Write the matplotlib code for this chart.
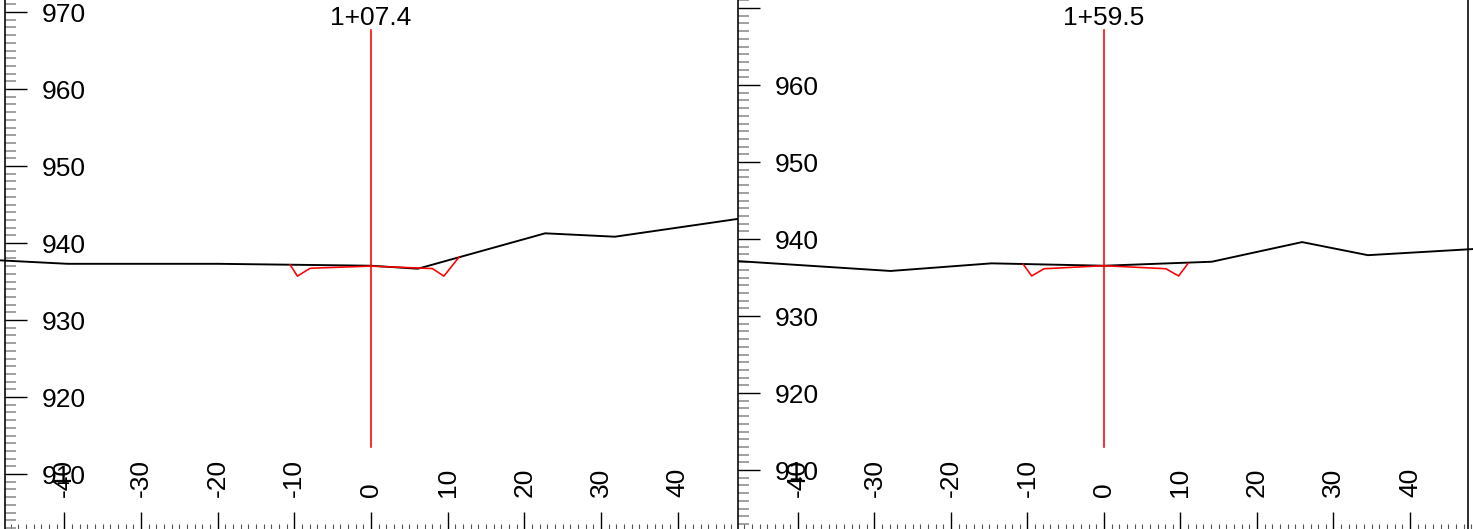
import matplotlib
matplotlib.use('Agg')
import matplotlib.pyplot as plt
from matplotlib.ticker import MultipleLocator

plt.rcParams['font.family'] = ['Liberation Sans', 'DejaVu Sans']

W, H, DPI = 1473, 529, 100
PX = 72.0 / DPI  # points per pixel

# ---------------- data ----------------
stations = ['1+07.4', '1+59.5']

ground_x_1 = [-48.4, -39.6, -20.0, 0.0, 6.1, 22.7, 31.8, 47.75]
ground_y_1 = [937.75, 937.3, 937.3, 937.05, 936.66, 941.26, 940.82, 943.12]
templ_x_1 = [-10.56, -9.6, -7.95, 0.0, 8.0, 9.5, 11.5]
templ_y_1 = [937.18, 935.7, 936.72, 937.0, 936.68, 935.7, 938.2]
cl_y_1 = [913.5, 967.66]

ground_x_2 = [-48.0, -27.9, -14.7, 0.0, 14.1, 25.9, 34.5, 48.3]
ground_y_2 = [937.14, 935.85, 936.84, 936.53, 937.05, 939.6, 937.9, 938.7]
templ_x_2 = [-10.55, -9.45, -7.84, 0.0, 8.1, 9.76, 11.0]
templ_y_2 = [936.72, 935.2, 936.14, 936.53, 936.14, 935.2, 936.84]
cl_y_2 = [913.0, 967.1]

x_ticks = [-40, -30, -20, -10, 0, 10, 20, 30, 40]
x_tick_labels = ['-40', '-30', '-20', '-10', '0', '10', '20', '30', '40']
y_ticks = [910, 920, 930, 940, 950, 960, 970]
y_tick_labels_1 = ['910', '920', '930', '940', '950', '960', '970']
y_tick_labels_2 = ['910', '920', '930', '940', '950', '960', '']

panels = [
    dict(station=stations[0], gx=ground_x_1, gy=ground_y_1, tx=templ_x_1, ty=templ_y_1,
         cl=cl_y_1, ylabels=y_tick_labels_1, rect=[4.5, 732.5], xlim=(-47.8, 47.72),
         ylim=(902.86, 971.56), clip=False),
    dict(station=stations[1], gx=ground_x_2, gy=ground_y_2, tx=templ_x_2, ty=templ_y_2,
         cl=cl_y_2, ylabels=y_tick_labels_2, rect=[738, 735], xlim=(-47.84, 48.24),
         ylim=(902.34, 971.04), clip=True),
]

FS = 19
fig = plt.figure(figsize=(W / DPI, H / DPI), dpi=DPI)

for p in panels:
    ax = fig.add_axes([p['rect'][0] / W, 0, p['rect'][1] / W, 1])
    ax.set_xlim(*p['xlim'])
    ax.set_ylim(*p['ylim'])
    for s in ['top', 'right', 'bottom']:
        ax.spines[s].set_visible(False)
    ax.spines['left'].set_linewidth(1.6 * PX)
    ax.spines['left'].set_color('black')

    ax.plot(p['gx'], p['gy'], color='black', lw=1.9 * PX, clip_on=p['clip'], zorder=3)
    ax.plot(p['tx'], p['ty'], color='#ff0000', lw=1.6 * PX, zorder=4)
    ax.plot([0, 0], p['cl'], color='#ff0000', lw=1.6 * PX, zorder=4)
    ax.text(0, p['cl'][1], p['station'], ha='center', va='bottom', fontsize=FS)

    ax.set_xticks(x_ticks)
    ax.set_xticklabels(x_tick_labels)
    ax.xaxis.set_minor_locator(MultipleLocator(1))
    ax.set_yticks(y_ticks)
    ax.set_yticklabels(p['ylabels'])
    ax.yaxis.set_minor_locator(MultipleLocator(1))

    ax.tick_params(axis='x', which='major', direction='in', length=17 * PX, width=1.4 * PX,
                   color='black', pad=-32 * PX, labelsize=FS, labelrotation=90)
    ax.tick_params(axis='x', which='minor', direction='in', length=5 * PX, width=1.1 * PX,
                   color='#555555')
    ax.tick_params(axis='y', which='major', direction='in', length=22 * PX, width=1.4 * PX,
                   color='black', pad=-37 * PX, labelsize=FS)
    ax.tick_params(axis='y', which='minor', direction='in', length=11 * PX, width=1.6 * PX,
                   color='#8c8c8c')
    plt.setp(ax.get_xticklabels(), va='bottom', ha='center')
    plt.setp(ax.get_yticklabels(), ha='left')

# left edge of the next (cut-off) section
ax3 = fig.add_axes([1468 / W, 0, 5 / W, 1])
for s in ['top', 'right', 'bottom']:
    ax3.spines[s].set_visible(False)
ax3.spines['left'].set_linewidth(1.6 * PX)
ax3.set_xticks([])
ax3.set_yticks([])
ax3.patch.set_alpha(0)

fig.savefig('out.png', dpi=DPI)
